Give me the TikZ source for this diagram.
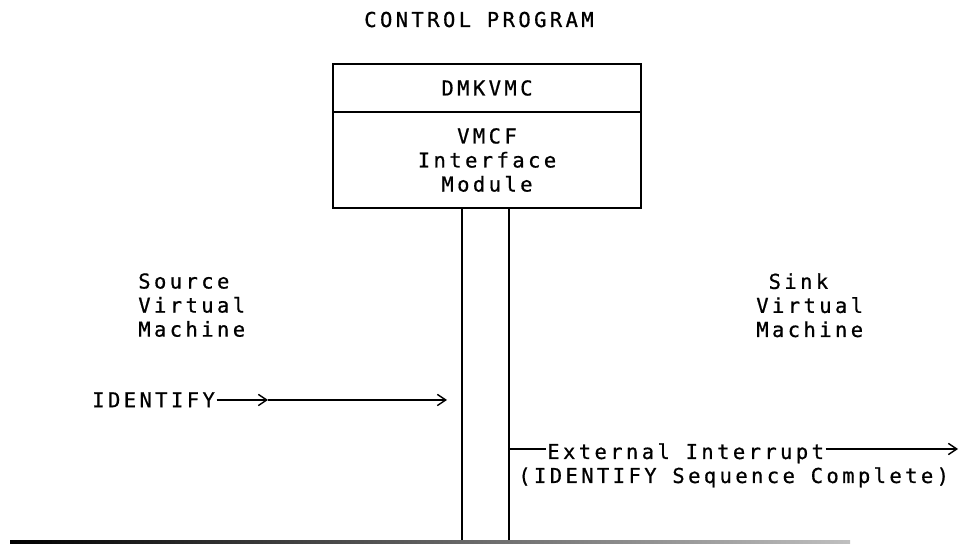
\documentclass[tikz,border=0pt]{standalone}
\usepackage{fontspec}
\newfontfamily\ibmfont[LetterSpace=16.5,FakeBold=0.7]{DejaVu Sans Mono}
\usetikzlibrary{arrows.meta,positioning}

\begin{document}
\begin{tikzpicture}[x=0.025cm,y=-0.025cm,
  font=\ibmfont\fontsize{14.6}{17.1}\selectfont,
  lbl/.style={inner sep=0pt,align=left},
  cell/.style={draw,line width=1.2pt,minimum width=7.7cm,align=center,inner sep=0pt,outer sep=0pt},
  wire/.style={line width=1pt},
  barb/.style={wire,-{Straight Barb[length=6pt,width=8pt,line width=1pt]}}]
  \useasboundingbox (0,0) rectangle (963,544);
  % title
  \node[lbl,anchor=base] (cp) at (479,27) {CONTROL PROGRAM};
  % module box
  \node[cell,minimum height=1.2cm] (hdr) at (487,88) {DMKVMC};
  \node[cell,minimum height=2.4cm,below=0pt of hdr] (body) {VMCF\\Interface\\Module};
  % the two machines
  \node[lbl,anchor=north west] (src) at (138,273) {Source\\Virtual\\Machine};
  \node[lbl,anchor=north west] (snk) at (756,273) {\hphantom{S}Sink\\Virtual\\Machine};
  % pillars and base line
  \coordinate (pl) at (462,542);
  \coordinate (pr) at (509,542);
  \draw[line width=1.2pt] (pl |- body.south) -- (pl);
  \draw[line width=1.2pt] (pr |- body.south) -- (pr);
  \shade[left color=black,right color=black!25] (10,540.6) rectangle (850,543.8);
  % IDENTIFY request
  \node[lbl,anchor=north west] (idf) at (92,392) {IDENTIFY};
  \coordinate (mid) at (268,400);
  \coordinate (stop) at (447,400);
  \draw[barb] ([xshift=1pt]idf.east |- mid) -- (mid);
  \draw[barb] (mid) -- (stop);
  % interrupt back to the sink
  \coordinate (ex0) at (509,449);
  \coordinate (ex1) at (958,449);
  \node[lbl,anchor=north west] (ext) at (547,443) {External Interrupt};
  \node[lbl,anchor=north west] (seq) at (518,467) {(IDENTIFY Sequence Complete)};
  \draw[wire] (ex0) -- ([xshift=-1pt]ext.west |- ex0);
  \draw[barb] ([xshift=1pt]ext.east |- ex0) -- (ex1);
\end{tikzpicture}
\end{document}
